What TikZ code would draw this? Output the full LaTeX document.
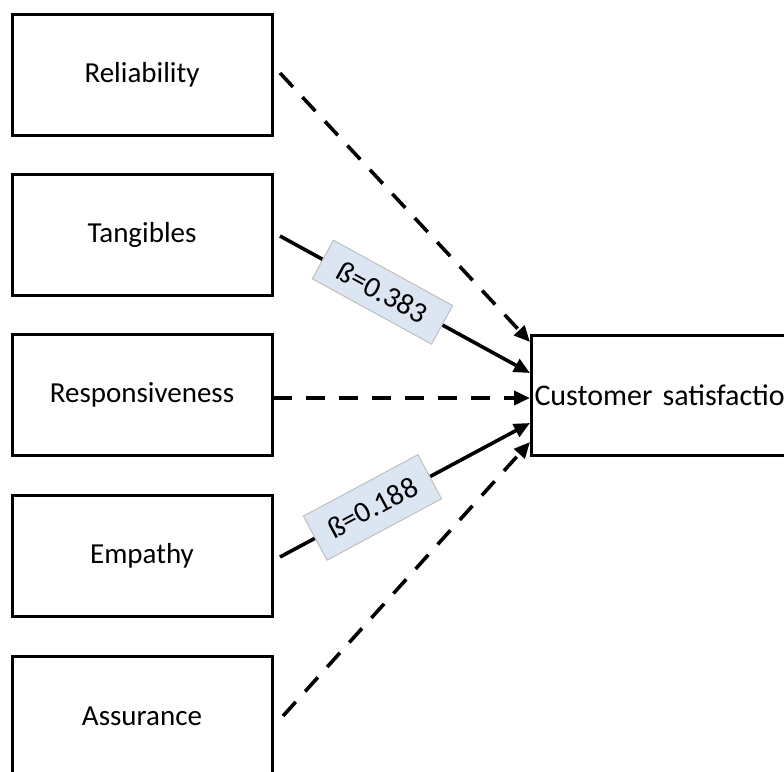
\documentclass[tikz,border=0pt]{standalone}
\usepackage{fontspec}
\setmainfont{Carlito}
\usetikzlibrary{arrows.meta}
\definecolor{lblfill}{HTML}{DCE6F2}
\definecolor{lbldraw}{HTML}{BFBFBF}
\tikzset{
  factor/.style={draw=black, line width=3pt, minimum width=260pt, minimum height=121pt, inner sep=0pt, font=\fontsize{29}{34}\selectfont},
  conn/.style={line width=3.6pt, -{Triangle[length=16pt,width=14pt]}},
  dashconn/.style={conn, dash pattern=on 19pt off 14pt},
  lbl/.style={fill=lblfill, draw=lbldraw, line width=1pt, inner sep=0pt, sloped, font=\fontsize{29.5}{34}\selectfont}
}
\begin{document}
\begin{tikzpicture}[x=1pt, y=-1pt]
\useasboundingbox (0,0) rectangle (784,771);
\clip (0,0) rectangle (784,771);
\node[factor] (rel) at (142,74.5) {Reliability};
\node[factor] (tan) at (142,235) {Tangibles};
\node[factor] (res) at (142,395) {Responsiveness};
\node[factor] (emp) at (142,555.5) {Empathy};
\node[factor] (ass) at (142,716.5) {Assurance};
\node[draw=black, line width=3pt, minimum height=120pt, minimum width=300pt, text width=294pt, inner xsep=3pt, inner ysep=0pt, align=left, anchor=west, font=\fontsize{30}{34}\selectfont] (cs) at (530,395) {Customer satisfaction};
\coordinate (s1) at (280,73);
\coordinate (s2) at (280,236);
\coordinate (s3) at (273,398);
\coordinate (s4) at (280,557);
\coordinate (s5) at (283,716);
\coordinate (e1) at (530,342);
\coordinate (e2) at (530,373);
\coordinate (e3) at (530,398);
\coordinate (e4) at (530,423);
\coordinate (e5) at (530,442);
\draw[dashconn] (s1) -- (e1);
\draw[conn] (s2) -- node[lbl, pos=0.41, minimum width=136pt, minimum height=44pt] (l1) {ß=0.383} (e2);
\draw[dashconn] (s3) -- (e3);
\draw[conn] (s4) -- node[lbl, pos=0.37, minimum width=130pt, minimum height=50pt] (l2) {ß=0.188} (e4);
\draw[dashconn] (s5) -- (e5);
\end{tikzpicture}
\end{document}
